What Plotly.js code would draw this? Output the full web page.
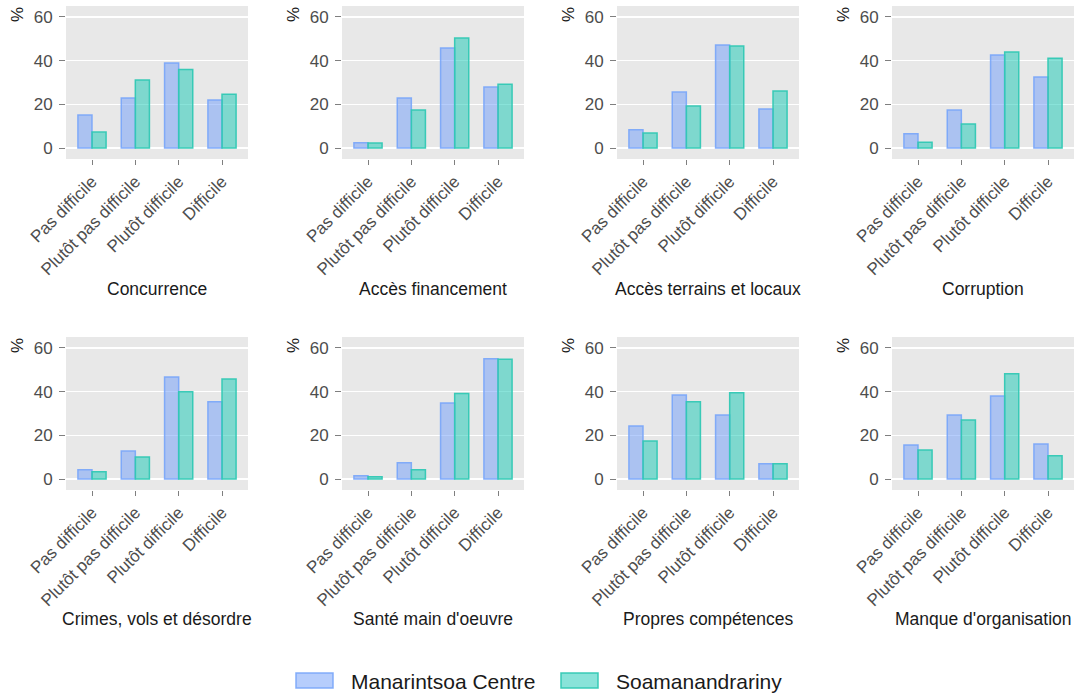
<!DOCTYPE html>
<html>
<head>
<meta charset="utf-8">
<script src="https://cdn.plot.ly/plotly-3.0.1.min.js"></script>
<style>html,body{margin:0;padding:0;background:#fff;}#chart{width:1078px;height:695px;}</style>
</head>
<body>
<div id="chart"></div>
<script>
var categories = ['Pas difficile', 'Plutôt pas difficile', 'Plutôt difficile', 'Difficile'];
var panelTitles = ['Concurrence', 'Accès financement', 'Accès terrains et locaux', 'Corruption',
  'Crimes, vols et désordre', "Santé main d'oeuvre", 'Propres compétences', "Manque d'organisation"];
var seriesNames = ['Manarintsoa Centre', 'Soamanandrariny'];
var manarintsoaCentre = [
  [15.1, 22.9, 38.9, 22.0],
  [2.4, 22.9, 45.8, 27.9],
  [8.4, 25.6, 47.2, 17.9],
  [6.6, 17.4, 42.6, 32.5],
  [4.3, 12.8, 46.7, 35.4],
  [1.5, 7.5, 34.8, 55.0],
  [24.3, 38.5, 29.3, 7.0],
  [15.6, 29.3, 38.0, 16.0]
];
var soamanandrariny = [
  [7.3, 31.1, 35.9, 24.6],
  [2.3, 17.4, 50.4, 29.2],
  [6.9, 19.2, 46.7, 26.1],
  [2.7, 11.0, 44.0, 41.1],
  [3.4, 10.1, 40.0, 45.8],
  [1.1, 4.3, 39.1, 54.8],
  [17.4, 35.4, 39.5, 7.0],
  [13.3, 27.0, 48.2, 10.7]
];
var yTicks = [0, 20, 40, 60];

(function () {
  var W = 1078, H = 695;
  var colLeft = [66, 342, 617, 892];
  var plotW = 182;
  var rowTop = [6, 337];
  var plotH = 153;
  var titleY = [289, 619];

  var fills = ['rgba(110,155,250,0.5)', 'rgba(20,200,180,0.5)'];
  var lines = ['rgba(120,165,250,0.9)', 'rgba(50,200,180,0.95)'];

  var data = [];
  var layout = {
    width: W, height: H,
    margin: {l: 0, r: 0, t: 0, b: 0},
    paper_bgcolor: '#ffffff',
    plot_bgcolor: '#e8e8e8',
    font: {family: 'Arial, "Liberation Sans", sans-serif', color: '#4d4d4d'},
    barmode: 'group',
    bargap: 0.35,
    bargroupgap: 0,
    showlegend: false,
    annotations: [],
    shapes: []
  };

  for (var p = 0; p < 8; p++) {
    var r = Math.floor(p / 4), c = p % 4;
    var sfx = p === 0 ? '' : String(p + 1);
    var left = colLeft[c], rowY = rowTop[r];
    var series = [manarintsoaCentre[p], soamanandrariny[p]];
    for (var s = 0; s < 2; s++) {
      data.push({
        type: 'bar', x: categories, y: series[s], name: seriesNames[s],
        xaxis: 'x' + sfx, yaxis: 'y' + sfx,
        marker: {color: fills[s], line: {color: lines[s], width: 1.5}},
        showlegend: false, hoverinfo: 'x+y'
      });
    }
    layout['xaxis' + sfx] = {
      domain: [left / W, (left + plotW) / W], anchor: 'y' + sfx,
      range: [-0.6, 3.6], tickangle: -45, ticks: 'outside', ticklen: 5, tickwidth: 1,
      tickcolor: '#7f7f7f', tickfont: {size: 17, color: '#4d4d4d'}, showgrid: false,
      zeroline: false, showline: false, fixedrange: true
    };
    layout['yaxis' + sfx] = {
      domain: [1 - (rowY + plotH) / H, 1 - rowY / H], anchor: 'x' + sfx,
      range: [-5, 65], tickvals: yTicks, ticks: 'outside', ticklen: 6, tickwidth: 1,
      tickcolor: '#7f7f7f', tickfont: {size: 17, color: '#4d4d4d'}, ticklabelstandoff: 3,
      showgrid: true, gridcolor: '#ffffff', gridwidth: 1.2, zeroline: false, showline: false, fixedrange: true
    };
    layout.annotations.push({
      text: panelTitles[p], xref: 'paper', yref: 'paper',
      x: (left + plotW / 2) / W, y: 1 - titleY[r] / H, xanchor: 'center', yanchor: 'middle',
      showarrow: false, font: {size: 17.5, color: '#1a1a1a'}
    });
    layout.annotations.push({
      text: '%', xref: 'paper', yref: 'paper', textangle: -90,
      x: (left - 48) / W, y: 1 - (rowY + 9) / H, xanchor: 'center', yanchor: 'middle',
      showarrow: false, font: {size: 17, color: '#1a1a1a'}
    });
  }

  // Legend drawn as swatches + labels
  var swX = [296, 561], txX = [349, 614];
  for (var k = 0; k < 2; k++) {
    layout.shapes.push({
      type: 'rect', xref: 'paper', yref: 'paper',
      x0: swX[k] / W, x1: (swX[k] + 37) / W, y0: 1 - 688 / H, y1: 1 - 673 / H,
      fillcolor: fills[k], line: {color: lines[k], width: 1.5}
    });
    layout.annotations.push({
      text: seriesNames[k], xref: 'paper', yref: 'paper',
      x: txX[k] / W, y: 1 - 681 / H, xanchor: 'left', yanchor: 'middle',
      showarrow: false, font: {size: 21, color: '#1a1a1a'}
    });
  }

  Plotly.newPlot('chart', data, layout, {displayModeBar: false, staticPlot: true});
})();
</script>
</body>
</html>
